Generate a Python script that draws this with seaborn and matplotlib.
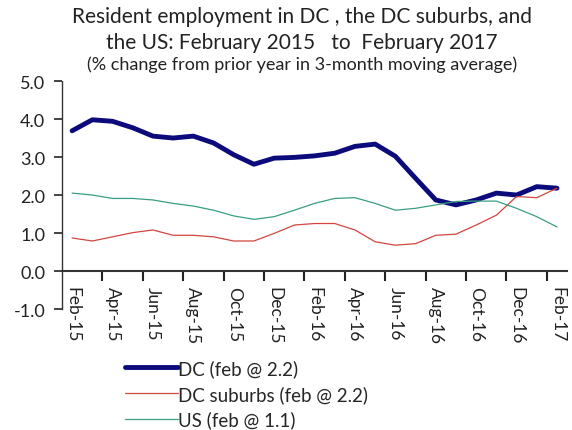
import matplotlib
matplotlib.use("Agg")
import matplotlib.pyplot as plt
import seaborn as sns
import pandas as pd

# monthly categories, Feb-15 .. Feb-17
months = ["Feb-15", "Mar-15", "Apr-15", "May-15", "Jun-15", "Jul-15", "Aug-15", "Sep-15",
          "Oct-15", "Nov-15", "Dec-15", "Jan-16", "Feb-16", "Mar-16", "Apr-16", "May-16",
          "Jun-16", "Jul-16", "Aug-16", "Sep-16", "Oct-16", "Nov-16", "Dec-16", "Jan-17", "Feb-17"]

dc = [3.69, 3.98, 3.94, 3.77, 3.55, 3.50, 3.55, 3.37, 3.06, 2.81, 2.97, 2.99,
      3.03, 3.10, 3.28, 3.34, 3.02, 2.44, 1.87, 1.74, 1.87, 2.05, 2.00, 2.22, 2.18]
suburbs = [0.87, 0.79, 0.90, 1.01, 1.08, 0.94, 0.94, 0.90, 0.79, 0.79, 0.99, 1.21,
           1.25, 1.25, 1.08, 0.77, 0.68, 0.72, 0.94, 0.97, 1.21, 1.47, 1.96, 1.93, 2.18]
us = [2.05, 2.00, 1.91, 1.91, 1.87, 1.78, 1.71, 1.60, 1.45, 1.36, 1.43, 1.60,
      1.78, 1.91, 1.93, 1.78, 1.60, 1.65, 1.74, 1.83, 1.84, 1.84, 1.65, 1.43, 1.16]

series_names = ["DC (feb @ 2.2)", "DC suburbs (feb @ 2.2)", "US (feb @ 1.1)"]
colors = ["#0b0b7c", "#d2463f", "#3a9e83"]
widths = [3.5, 0.9, 0.9]

sns.set_style("white", {"xtick.bottom": True, "ytick.left": True})
plt.rcParams["font.family"] = ["Lato", "DejaVu Sans"]

rows = []
for name, vals in zip(series_names, [dc, suburbs, us]):
    for i, v in enumerate(vals):
        rows.append({"pos": i, "month": months[i], "value": v, "series": name})
df = pd.DataFrame(rows)

fig = plt.figure(figsize=(5.72, 4.31), dpi=100)
ax = fig.add_axes([0.1084, 0.2807, 0.883, 0.529])

for name, col, lw in zip(series_names, colors, widths):
    sns.lineplot(data=df[df["series"] == name], x="pos", y="value", color=col,
                 linewidth=lw, ax=ax, label=name)

# axis lines first (moving a spine rebuilds the ticks)
ax.spines["bottom"].set_position(("data", 0))
ax.spines["bottom"].set_color("#333333")
ax.spines["bottom"].set_linewidth(1.5)
ax.spines["left"].set_linestyle((0, (2, 1)))
ax.spines["left"].set_color("#333333")
ax.spines["left"].set_linewidth(1.0)
ax.spines["top"].set_visible(False)
ax.spines["right"].set_visible(False)

ax.set_xlim(-0.5, 24.5)
ax.set_ylim(-1.0, 5.0)
ax.set_yticks([-1, 0, 1, 2, 3, 4, 5])
ax.set_yticklabels([f"{v:.1f}" for v in [-1, 0, 1, 2, 3, 4, 5]], fontsize=13, color="#222222")

# tick marks between categories (major), labels on every 2nd month (minor, no mark)
ax.set_xticks([1.5 + 2 * k for k in range(12)])
ax.set_xticklabels([])
ax.set_xticks(range(0, 25, 2), minor=True)
ax.set_xticklabels(months[::2], minor=True, fontsize=12.5, color="#222222")
ax.tick_params(axis="y", which="major", direction="out", length=6, width=1.2, color="#222222",
               pad=6, left=True, tick1On=True)
ax.tick_params(axis="x", which="major", direction="out", length=7, width=1.5, color="#222222",
               bottom=True, tick1On=True)
ax.tick_params(axis="x", which="minor", length=0, pad=11, labelrotation=270)
for lab in ax.get_xticklabels(minor=True):
    lab.set_ha("center")
    lab.set_va("top")

ax.set_xlabel("")
ax.set_ylabel("")

ax.legend(loc="upper left", bbox_to_anchor=(125 / 572, 1 - 360 / 431), bbox_transform=fig.transFigure,
          frameon=False, fontsize=13.5, handlelength=2.8, handletextpad=0.05, labelspacing=0.42,
          borderpad=0, borderaxespad=0)

fig.text(0.528, 1 - 17 / 431, "Resident employment in DC , the DC suburbs, and", ha="center", va="center",
         fontsize=15, color="#222222")
fig.text(0.528, 1 - 43 / 431, "the US: February 2015   to  February 2017", ha="center", va="center",
         fontsize=15, color="#222222")
fig.text(0.528, 1 - 65 / 431, "(% change from prior year in 3-month moving average)", ha="center", va="center",
         fontsize=13, color="#222222")

fig.savefig("out.png", dpi=100)
